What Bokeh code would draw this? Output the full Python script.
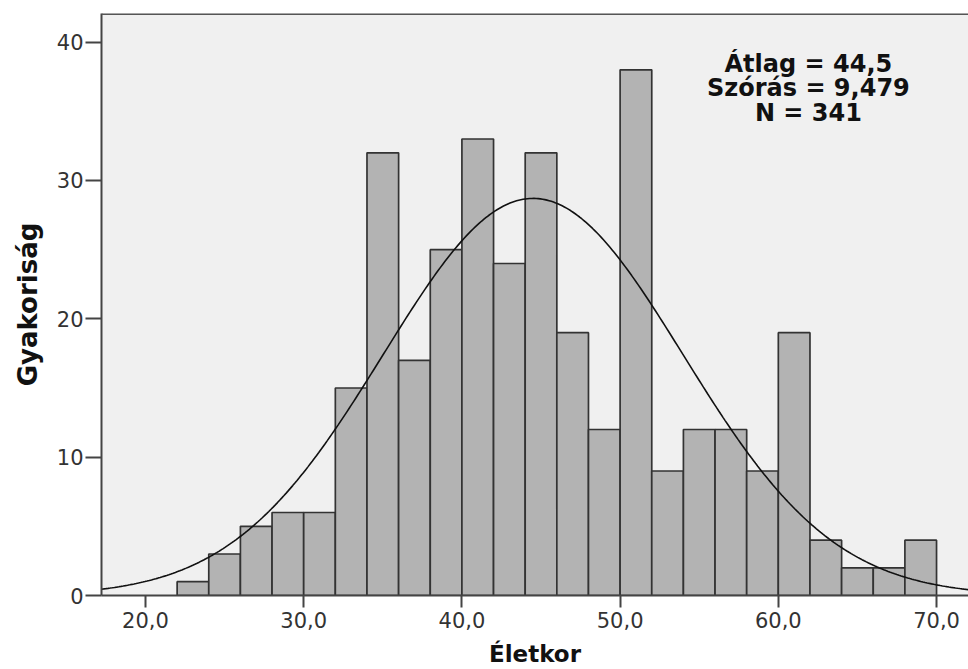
import numpy as np
from bokeh.plotting import figure
from bokeh.models import Range1d, FixedTicker, Span, ColumnDataSource
from bokeh.core.properties import value
from bokeh.embed import file_html
from bokeh.resources import INLINE

# ---- data ----
bin_left = [22, 24, 26, 28, 30, 32, 34, 36, 38, 40, 42, 44, 46, 48, 50, 52, 54, 56, 58, 60, 62, 64, 66, 68]
bin_width = 2
counts = [1, 3, 5, 6, 6, 15, 32, 17, 25, 33, 24, 32, 19, 12, 38, 9, 12, 12, 9, 19, 4, 2, 2, 4]
mean_val = 44.5
sd_val = 9.479
n_val = 341
x_ticks = [20, 30, 40, 50, 60, 70]
x_tick_labels = ["20,0", "30,0", "40,0", "50,0", "60,0", "70,0"]
y_ticks = [0, 10, 20, 30, 40]
stats_lines = ["Átlag = 44,5", "Szórás = 9,479", "N = 341"]

X0, X1 = 17.22, 72.02
Y0, Y1 = 0, 42.07

p = figure(width=968, height=669, output_backend="svg", toolbar_location=None,
           x_range=Range1d(X0, X1), y_range=Range1d(Y0, Y1),
           min_border_left=101, min_border_right=0, min_border_top=13, min_border_bottom=73,
           background_fill_color="#f0f0f0", border_fill_color="white")
p.outline_line_color = None
p.xgrid.visible = False
p.ygrid.visible = False

left = np.array(bin_left, dtype=float)
src = ColumnDataSource(dict(left=left, right=left + bin_width, top=counts, bottom=[0] * len(counts)))
p.quad(left="left", right="right", top="top", bottom="bottom", source=src,
       fill_color="#b3b3b3", line_color="#333333", line_width=1.7)

# fitted normal curve
xs = np.linspace(X0, X1, 400)
ys = n_val * bin_width / (sd_val * np.sqrt(2 * np.pi)) * np.exp(-0.5 * ((xs - mean_val) / sd_val) ** 2)
p.line(xs, ys, line_color="#111111", line_width=1.6)

# top border
p.add_layout(Span(location=Y1 - 0.04, dimension="width", line_color="#555555", line_width=2))

# stats text
tsrc = ColumnDataSource(dict(x=[61.9] * 3, y=[38.45, 36.7, 34.9], t=stats_lines))
p.text(x="x", y="y", text="t", source=tsrc, text_align="center", text_baseline="alphabetic",
       text_font=value("DejaVu Sans"), text_font_style="bold", text_font_size="24px",
       text_color="#111111")

# axes
xa = p.xaxis[0]
xa.ticker = FixedTicker(ticks=x_ticks)
xa.major_label_overrides = {t: l for t, l in zip(x_ticks, x_tick_labels)}
xa.minor_tick_line_color = None
xa.major_tick_out = 12
xa.major_tick_in = 0
xa.major_label_standoff = 4
xa.axis_line_color = "#444444"
xa.axis_line_width = 2
xa.major_tick_line_color = "#444444"
xa.major_tick_line_width = 2
xa.major_label_text_font = "DejaVu Sans"
xa.major_label_text_font_size = "21px"
xa.major_label_text_color = "#333333"
xa.axis_label = "Életkor"
xa.axis_label_standoff = 10
xa.axis_label_text_font = "DejaVu Sans"
xa.axis_label_text_font_style = "bold"
xa.axis_label_text_font_size = "23px"
xa.axis_label_text_color = "#111111"

ya = p.yaxis[0]
ya.ticker = FixedTicker(ticks=y_ticks)
ya.minor_tick_line_color = None
ya.major_tick_out = 16
ya.major_tick_in = 0
ya.major_label_standoff = 2
ya.axis_line_color = "#444444"
ya.axis_line_width = 2
ya.major_tick_line_color = "#444444"
ya.major_tick_line_width = 2
ya.major_label_text_font = "DejaVu Sans"
ya.major_label_text_font_size = "21px"
ya.major_label_text_color = "#333333"
ya.axis_label = "Gyakoriság"
ya.axis_label_standoff = 11
ya.axis_label_text_font = "DejaVu Sans"
ya.axis_label_text_font_style = "bold"
ya.axis_label_text_font_size = "26px"
ya.axis_label_text_color = "#111111"

open("out.html", "w").write(file_html(p, INLINE))
